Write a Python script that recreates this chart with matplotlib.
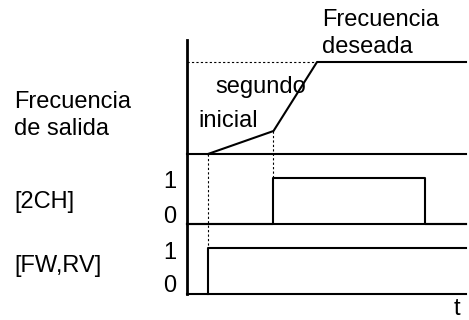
import matplotlib
matplotlib.use("Agg")
import matplotlib.pyplot as plt

plt.rcParams['font.family'] = ['Liberation Sans', 'DejaVu Sans']

# tiempos (unidades arbitrarias, 0 = eje vertical)
t_end = 10.0
t_start = 0.75      # arranque FW/RV
t_switch = 3.1      # entra 2CH
t_target = 4.66     # alcanza frecuencia deseada
t_2ch_off = 8.53

# frecuencia de salida (0 .. 1 = deseada)
freq_t = [t_start, t_switch, t_target, t_end]
freq_v = [0.0, 0.25, 1.0, 1.0]

# senales digitales
ch2_t = [0, t_switch, t_switch, t_2ch_off, t_2ch_off, t_end]
ch2_v = [0, 0, 1, 1, 0, 0]
fw_t = [t_start, t_start, t_end]
fw_v = [0, 1, 1]

row_labels = ["Frecuencia\nde salida", "[2CH]", "[FW,RV]"]

W, H = 469, 320
X0, X1 = 187, 466          # pixel range of time axis
px_per_t = (X1 - X0) / t_end

fig = plt.figure(figsize=(W / 100, H / 100), dpi=100)
ax = fig.add_axes([0, 0, 1, 1])
ax.set_xlim(-X0 / px_per_t, (W - X0) / px_per_t)
ax.set_ylim(H, 0)
ax.axis("off")

# bases (px) y alturas de cada fila
f_base, f_h = 154, 92
c_base, c_h = 224, 46
w_base, w_h = 294, 46

def row(vals, base, h):
    return [base - v * h for v in vals]

lw = 1.5
ax.plot([0, 0], [40, w_base], color="black", lw=2)
for base in (f_base, c_base, w_base):
    ax.plot([0, t_end], [base, base], color="black", lw=lw)

ax.plot(freq_t, row(freq_v, f_base, f_h), color="black", lw=lw)
ax.plot(ch2_t, row(ch2_v, c_base, c_h), color="black", lw=lw)
ax.plot(fw_t, row(fw_v, w_base, w_h), color="black", lw=lw)

dot = dict(color="black", lw=0.8, linestyle=(0, (2, 2)))
ax.plot([0, t_target], row([1, 1], f_base, f_h), **dot)
ax.plot([t_start, t_start], [f_base, w_base - w_h], **dot)
ax.plot([t_switch, t_switch], [row([0.25], f_base, f_h)[0], c_base - c_h], **dot)

fs = 17
def txt(x, y, s, ha="left"):
    fig.text(x / W, 1 - y / H, s, fontsize=fs, ha=ha, va="baseline")

txt(14, 108, "Frecuencia")
txt(14, 135, "de salida")
txt(14, 208, row_labels[1])
txt(14, 272, row_labels[2])
txt(176, 188, "1", "right")
txt(176, 223, "0", "right")
txt(176, 259, "1", "right")
txt(176, 292, "0", "right")
txt(215, 93, "segundo")
txt(198, 127, "inicial")
txt(322, 26, "Frecuencia")
txt(322, 53, "deseada")
txt(457, 315, "t", "center")

fig.savefig("out.png", dpi=100)
